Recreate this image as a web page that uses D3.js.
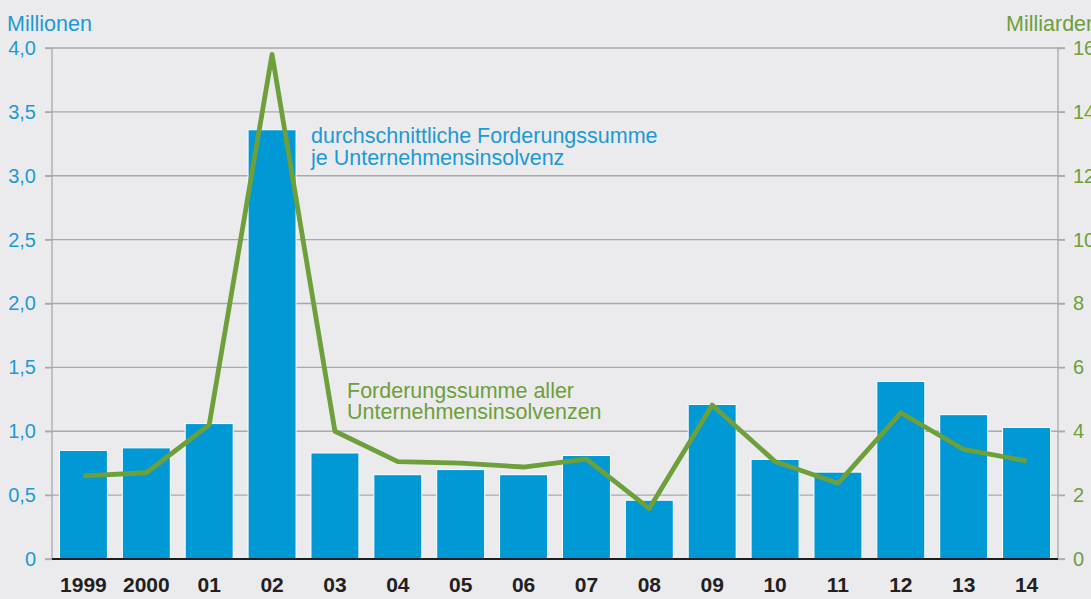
<!DOCTYPE html>
<html>
<head>
<meta charset="utf-8">
<script src="https://cdn.jsdelivr.net/npm/d3@7"></script>
<style>
  html, body { margin: 0; padding: 0; background: #ebebee; }
  svg { display: block; font-family: "Liberation Sans", Arial, Helvetica, sans-serif; }
</style>
</head>
<body>
<svg id="chart" width="1091" height="599"></svg>
<script>
const categories = ["1999","2000","01","02","03","04","05","06","07","08","09","10","11","12","13","14"];
const avgClaim = [0.85,0.87,1.06,3.36,0.83,0.66,0.70,0.66,0.81,0.46,1.21,0.78,0.68,1.39,1.13,1.03];   // Millionen
const totalClaims = [2.6,2.7,4.2,15.8,4.0,3.05,3.0,2.88,3.13,1.58,4.82,3.05,2.37,4.58,3.43,3.07]; // Milliarden
const leftTicks = [0,0.5,1.0,1.5,2.0,2.5,3.0,3.5,4.0];
const rightTicks = [0,2,4,6,8,10,12,14,16];

const blue = "#0099d5";
const blueText = "#1b9ad6";
const green = "#6d9f3a";
const tickSize = 20;
const textSize = 21.5;

const svg = d3.select("#chart");
const pL = 52, pR = 1058, pT = 48, pB = 559;

const x = d3.scaleBand().domain(categories).range([pL, pR]).paddingInner(0.237).paddingOuter(0.1185);
const yL = d3.scaleLinear().domain([0, 4]).range([pB, pT]);
const yR = d3.scaleLinear().domain([0, 16]).range([pB, pT]);

const fmt = v => v === 0 ? "0" : d3.format(".1f")(v).replace(".", ",");

// gridlines
svg.append("g").selectAll("line").data(leftTicks.filter(d => d > 0)).join("line")
  .attr("x1", pL - 7).attr("x2", pR + 7)
  .attr("y1", d => yL(d)).attr("y2", d => yL(d))
  .attr("stroke", "#a9a9ab").attr("stroke-width", 1.3);

// left axis
const gL = svg.append("g").attr("transform", `translate(${pL},0)`)
  .call(d3.axisLeft(yL).tickValues(leftTicks).tickFormat(fmt).tickSize(7).tickPadding(9));
gL.select(".domain").attr("stroke", "#a9a9ab").attr("stroke-width", 1.3).attr("d", `M-7,${pB}H0V${pT}`);
gL.selectAll(".tick line").attr("stroke", "#a9a9ab").attr("stroke-width", 1.3);
gL.selectAll(".tick text").attr("fill", blueText).attr("font-size", tickSize).attr("font-family", null);

// right axis
const gR = svg.append("g").attr("transform", `translate(${pR},0)`)
  .call(d3.axisRight(yR).tickValues(rightTicks).tickFormat(d => String(d)).tickSize(7).tickPadding(8));
gR.select(".domain").attr("stroke", "#a9a9ab").attr("stroke-width", 1.3).attr("d", `M7,${pB}H0V${pT}`);
gR.selectAll(".tick line").attr("stroke", "#a9a9ab").attr("stroke-width", 1.3);
gR.selectAll(".tick text").attr("fill", green).attr("font-size", tickSize).attr("font-family", null);

// bars
svg.append("g").selectAll("rect").data(categories).join("rect")
  .attr("x", d => x(d))
  .attr("y", (d, i) => yL(avgClaim[i]))
  .attr("width", x.bandwidth())
  .attr("height", (d, i) => pB - yL(avgClaim[i]))
  .attr("fill", blue)
  .attr("stroke", "#ffffff").attr("stroke-width", 1);

// baseline
svg.append("line").attr("x1", pL).attr("x2", pR).attr("y1", pB).attr("y2", pB)
  .attr("stroke", "#1e1e1e").attr("stroke-width", 2);

// x axis labels
const gX = svg.append("g").attr("transform", `translate(0,${pB})`)
  .call(d3.axisBottom(x).tickSize(0).tickPadding(18));
gX.select(".domain").remove();
gX.selectAll(".tick text").attr("fill", "#231f20").attr("font-size", 21).attr("font-weight", "bold").attr("font-family", null);

// line
const line = d3.line()
  .x((d, i) => x(categories[i]) + x.bandwidth() / 2)
  .y(d => yR(d));
svg.append("path").datum(totalClaims)
  .attr("d", line)
  .attr("fill", "none").attr("stroke", green).attr("stroke-width", 4.8)
  .attr("stroke-linejoin", "round");

// axis unit titles
svg.append("text").attr("x", 7).attr("y", 31).attr("fill", blueText).attr("font-size", textSize).text("Millionen");
svg.append("text").attr("x", 1006).attr("y", 31).attr("fill", green).attr("font-size", textSize).text("Milliarden");

// annotations
const ann1 = svg.append("text").attr("fill", blueText).attr("font-size", textSize);
ann1.append("tspan").attr("x", 311).attr("y", 143).text("durchschnittliche Forderungssumme");
ann1.append("tspan").attr("x", 311).attr("y", 165).text("je Unternehmensinsolvenz");

const ann2 = svg.append("text").attr("fill", green).attr("font-size", textSize);
ann2.append("tspan").attr("x", 347).attr("y", 398).text("Forderungssumme aller");
ann2.append("tspan").attr("x", 347).attr("y", 419).text("Unternehmensinsolvenzen");
</script>
</body>
</html>
